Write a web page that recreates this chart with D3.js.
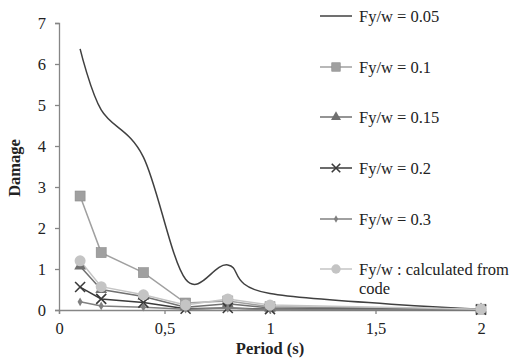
<!DOCTYPE html>
<html>
<head>
<meta charset="utf-8">
<script src="https://cdn.jsdelivr.net/npm/d3@7"></script>
<style>
  html, body { margin: 0; padding: 0; background: #fff; }
  svg { display: block; }
  svg text { font-family: "Liberation Serif", "Times New Roman", serif; }
</style>
</head>
<body>
<svg id="chart" width="511" height="359"></svg>
<script>
// Damage versus period for several yield-strength ratios
const periods = [0.1, 0.2, 0.4, 0.6, 0.8, 1, 2];
const fy005 = [6.37, 4.88, 3.73, 0.75, 1.1, 0.4, 0.02];
const fy010 = [2.78, 1.4, 0.91, 0.17, 0.22, 0.08, 0.02];
const fy015 = [1.07, 0.5, 0.33, 0.07, 0.15, 0.05, 0.02];
const fy020 = [0.56, 0.27, 0.18, 0.03, 0.05, 0.02, 0.01];
const fy030 = [0.2, 0.1, 0.07, 0.02, 0.04, 0.01, 0.01];
const fyCode = [1.2, 0.57, 0.37, 0.12, 0.27, 0.12, 0.02];

const seriesNames = ["Fy/w = 0.05", "Fy/w = 0.1", "Fy/w = 0.15", "Fy/w = 0.2", "Fy/w = 0.3", "Fy/w : calculated from code"];
const xTicks = [0, 0.5, 1, 1.5, 2];
const xTickLabels = ["0", "0,5", "1", "1,5", "2"];
const yTicks = [0, 1, 2, 3, 4, 5, 6, 7];

const series = [
  { name: seriesNames[0], values: fy005, color: "#404040", marker: "none", smooth: true, width: 1.5 },
  { name: seriesNames[1], values: fy010, color: "#a0a0a0", marker: "square", width: 1.5 },
  { name: seriesNames[2], values: fy015, color: "#707070", marker: "triangle", width: 1.5 },
  { name: seriesNames[3], values: fy020, color: "#3a3a3a", marker: "cross", width: 1.5 },
  { name: seriesNames[4], values: fy030, color: "#808080", marker: "diamond", width: 1.5 },
  { name: seriesNames[5], values: fyCode, color: "#c4c4c4", marker: "circle", width: 1.5 }
];

const svg = d3.select("#chart");
const x = d3.scaleLinear().domain([0, 2]).range([59, 481]);
const y = d3.scaleLinear().domain([0, 7]).range([310, 23]);
const axisColor = "#868686";
const serif = "'Liberation Serif', 'Times New Roman', serif";

// y axis
const gy = svg.append("g").attr("transform", "translate(59,0)")
  .call(d3.axisLeft(y).tickValues(yTicks).tickSize(4).tickPadding(9).tickFormat(d3.format("d")));
gy.select(".domain").attr("stroke", axisColor).attr("stroke-width", 1.3);
gy.selectAll(".tick line").attr("stroke", axisColor).attr("stroke-width", 1.3);
gy.selectAll(".tick text").style("font-size", "16.5px").attr("fill", "#222").style("font-family", serif);

// x axis
const gx = svg.append("g").attr("transform", "translate(0,310)")
  .call(d3.axisBottom(x).tickValues(xTicks).tickSize(4).tickPadding(8).tickFormat((d, i) => xTickLabels[i]));
gx.select(".domain").attr("stroke", axisColor).attr("stroke-width", 1.3);
gx.selectAll(".tick line").attr("stroke", axisColor).attr("stroke-width", 1.3);
gx.selectAll(".tick text").style("font-size", "16.5px").attr("fill", "#222").style("font-family", serif);

// axis titles
svg.append("text").attr("x", 270).attr("y", 354).attr("text-anchor", "middle")
  .attr("font-weight", "bold").style("font-size", "16.5px").attr("fill", "#222").text("Period (s)");
svg.append("text").attr("transform", "translate(20,168) rotate(-90)").attr("text-anchor", "middle")
  .attr("font-weight", "bold").style("font-size", "16.5px").attr("fill", "#222").text("Damage");

function drawMarker(g, type, cx, cy, color, scale) {
  const s = scale || 1;
  if (type === "square") {
    g.append("rect").attr("x", cx - 5 * s).attr("y", cy - 5 * s).attr("width", 10 * s).attr("height", 10 * s)
      .attr("fill", color).attr("stroke", "#8a8a8a").attr("stroke-width", 0.6);
  } else if (type === "triangle") {
    g.append("path").attr("d", d3.symbol(d3.symbolTriangle, 60 * s * s)()).attr("transform", `translate(${cx},${cy})`)
      .attr("fill", color);
  } else if (type === "cross") {
    const r = 5 * s;
    g.append("path").attr("d", `M${cx - r},${cy - r}L${cx + r},${cy + r}M${cx - r},${cy + r}L${cx + r},${cy - r}`)
      .attr("stroke", color).attr("stroke-width", 1.6).attr("fill", "none");
  } else if (type === "diamond") {
    g.append("path").attr("d", d3.symbol(d3.symbolDiamond, 22 * s * s)()).attr("transform", `translate(${cx},${cy})`)
      .attr("fill", color);
  } else if (type === "circle") {
    g.append("circle").attr("cx", cx).attr("cy", cy).attr("r", 5.5 * s).attr("fill", color);
  }
}

// series lines, then markers on top
const plot = svg.append("g");
series.forEach(s => {
  const pts = periods.map((p, i) => [p, s.values[i]]);
  const line = d3.line().x(d => x(d[0])).y(d => y(d[1]))
    .curve(s.smooth ? d3.curveCatmullRom.alpha(0) : d3.curveLinear);
  plot.append("path").datum(pts).attr("d", line).attr("fill", "none")
    .attr("stroke", s.color).attr("stroke-width", s.width);
});
series.forEach(s => {
  if (s.marker === "none") return;
  periods.forEach((p, i) => drawMarker(plot, s.marker, x(p), y(s.values[i]), s.color, 1));
});

// legend
const legendY = [16, 67, 117, 168, 219, 269];
const legend = svg.append("g");
series.forEach((s, i) => {
  const ly = legendY[i];
  legend.append("line").attr("x1", 320).attr("x2", 352).attr("y1", ly).attr("y2", ly)
    .attr("stroke", s.color).attr("stroke-width", 1.5);
  if (s.marker !== "none") drawMarker(legend, s.marker, 336, ly, s.color, 0.85);
  const t = legend.append("text").attr("x", 359).attr("y", ly + 5.5).style("font-size", "16.5px").attr("fill", "#222");
  if (i === 5) {
    t.append("tspan").attr("x", 359).text("Fy/w : calculated from");
    t.append("tspan").attr("x", 359).attr("dy", 19).text("code");
  } else {
    t.text(s.name);
  }
});
</script>
</body>
</html>
